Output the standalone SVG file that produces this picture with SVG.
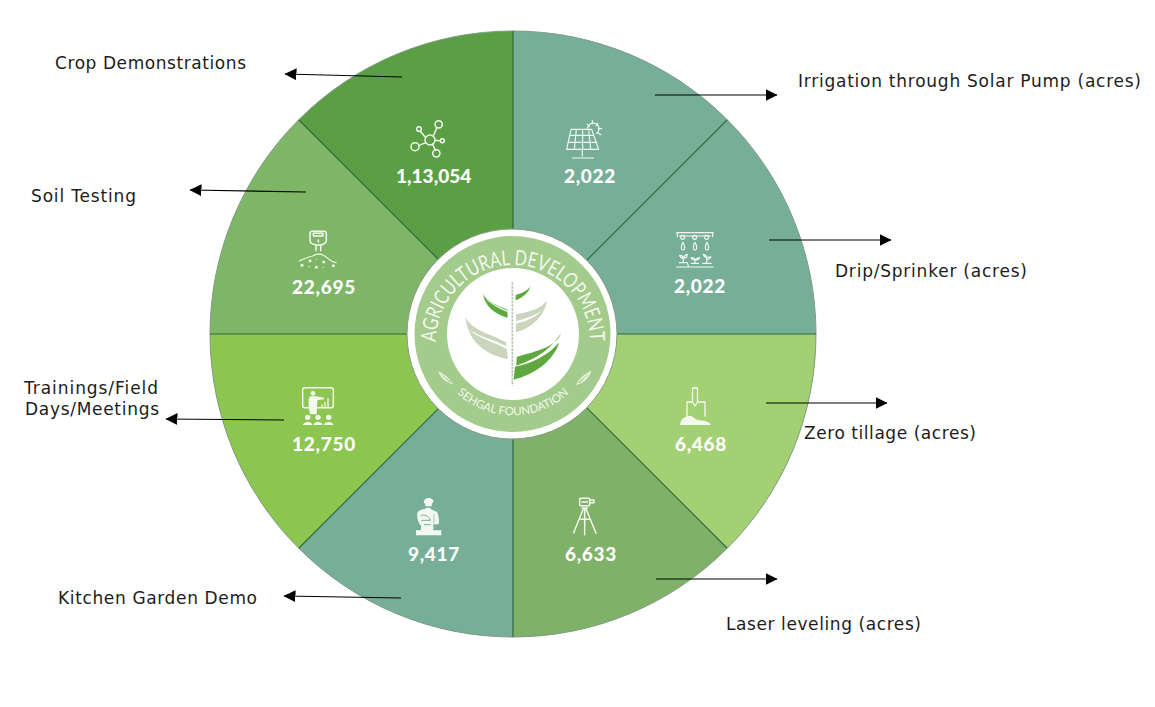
<svg xmlns="http://www.w3.org/2000/svg" width="1155" height="707" viewBox="0 0 1155 707">
<style>
.div{stroke:#2f6b3b;stroke-width:1.2;fill:none}
.lbl{font-family:"DejaVu Sans",Verdana,sans-serif;font-size:17px;fill:#1c1c1c}
.num{font-family:"Lato","Liberation Sans",sans-serif;font-weight:900;font-size:19px;fill:#fff;text-anchor:middle;letter-spacing:.7px}
.ic{fill:none;stroke:#f4f9f0;stroke-width:4.4;stroke-linecap:round;stroke-linejoin:round}
.thin{stroke-width:3.4}
.icf{fill:#f4f9f0;stroke:none}
.conn{stroke:#000;stroke-width:1.2;fill:none;marker-end:url(#ah)}
.ring{font-family:"Lato","Liberation Sans",sans-serif;fill:#f3f8ee}
</style>
<defs>
<marker id="ah" markerUnits="userSpaceOnUse" markerWidth="12" markerHeight="12" refX="11.500" refY="6" orient="auto"><path d="M0 0L12 6L0 12Z" fill="#000"/></marker>
<path id="arcTop" d="M436 342A77 77 0 0 1 590 342"/>
<path id="arcBot" d="M447 382A82 82 0 0 0 579 382"/>
</defs>
<rect width="1155" height="707" fill="#fff"/>
<g id="sectors">
<path fill="#5a9f44" d="M513 334L298.750 119.750A303 303 0 0 1 513 31Z"/>
<path fill="#76ae97" d="M513 334L513 31A303 303 0 0 1 727.250 119.750Z"/>
<path fill="#76ae97" d="M513 334L727.250 119.750A303 303 0 0 1 816 334Z"/>
<path fill="#a2d072" d="M513 334L816 334A303 303 0 0 1 727.250 548.250Z"/>
<path fill="#7fb268" d="M513 334L727.250 548.250A303 303 0 0 1 513 637Z"/>
<path fill="#76ae97" d="M513 334L513 637A303 303 0 0 1 298.750 548.250Z"/>
<path fill="#8cc650" d="M513 334L298.750 548.250A303 303 0 0 1 210 334Z"/>
<path fill="#7eb566" d="M513 334L210 334A303 303 0 0 1 298.750 119.750Z"/>
<circle cx="513" cy="334" r="303" fill="none" stroke="#7f9c84" stroke-width="1"/>
<path class="div" d="M298.750 119.750L727.250 548.250M727.250 119.750L298.750 548.250M210 334H816M513 31V637"/>
</g>
<g id="connectors">
<path class="conn" d="M402 77L285 74"/>
<path class="conn" d="M655 95L777 95"/>
<path class="conn" d="M769 240L891 240"/>
<path class="conn" d="M766 403L887 403"/>
<path class="conn" d="M656 579L777 579"/>
<path class="conn" d="M401 598L284 596"/>
<path class="conn" d="M284 420L166 419"/>
<path class="conn" d="M306 192L190 190"/>
</g>
<g id="hub">
<circle cx="512" cy="334" r="105" fill="#fff" stroke="#8a9c80" stroke-width="1"/>
<circle cx="512.500" cy="334" r="98" fill="#a3cb8b"/>
<circle cx="513" cy="334" r="66" fill="#fff"/>
<text class="ring" font-size="21"><textPath href="#arcTop" textLength="241" lengthAdjust="spacingAndGlyphs">AGRICULTURAL DEVELOPMENT</textPath></text>
<text class="ring" font-size="11.500"><textPath href="#arcBot" startOffset="50%" text-anchor="middle">SEHGAL FOUNDATION</textPath></text>
<g transform="translate(400 225) scale(.33333)">
<path d="M337 172V482" stroke="#b5c9ac" stroke-width="5" stroke-dasharray="8 3" fill="none"/>
<path fill="#5fa83f" d="M249 207C262 232 290 240 322 254L323 278C285 268 255 245 249 207Z"/>
<path fill="#fff" d="M257 222C275 240 300 250 322 262L322 257C298 246 275 236 257 222Z"/>
<path fill="#5fa83f" d="M347 210C365 205 382 198 392 183C385 205 368 218 347 226Z"/>
<path fill="#c9d6bd" d="M348 268C385 262 420 252 441 228C430 280 390 310 348 322Z"/>
<path fill="#fff" d="M348 288C382 280 410 270 430 252C410 276 380 288 348 296Z"/>
<path fill="#c9d6bd" d="M196 277C220 320 270 325 318 352L324 402C262 392 205 355 196 277Z"/>
<path fill="#fff" d="M205 312C235 340 280 350 320 372L320 364C280 344 235 334 205 312Z"/>
<path fill="#5fa83f" d="M484 324C465 370 400 380 350 396L349 422C410 400 445 380 484 324Z"/>
<path fill="#5fa83f" d="M478 352C460 410 400 450 341 464L345 425C395 415 440 395 478 352Z"/>
<path fill="#e6f1dc" d="M114 438C128 445 145 455 160 478C140 475 122 460 114 438Z"/>
<path fill="#a3cb8b" d="M120 447C134 455 145 463 155 473L150 473C140 463 130 455 120 447Z"/>
<path fill="#e6f1dc" d="M575 436C560 445 540 455 528 480C550 476 568 460 575 436Z"/>
<path fill="#a3cb8b" d="M569 446C556 454 545 462 534 474L539 474C548 464 558 455 569 446Z"/>
</g>
</g>
<g id="node-crop">
<text class="lbl" x="55" y="69" textLength="191">Crop Demonstrations</text>
<g transform="translate(290 110) scale(.33333)">
<circle class="ic" cx="420" cy="90" r="15"/>
<path class="ic" d="M430 78L440 54M406 82L393 66M407 98L388 106M428 103L436 120M434 91L448 92"/>
<circle class="ic" cx="446" cy="43" r="11"/><circle class="ic" cx="387" cy="57" r="7"/><circle class="ic" cx="375" cy="110" r="12"/><circle class="ic" cx="439" cy="130" r="11"/><circle class="ic" cx="457" cy="92" r="6"/>
</g>
<text class="num" x="434" y="183" textLength="76">1,13,054</text>
</g>
<g id="node-solar">
<text class="lbl" x="798" y="87" textLength="343">Irrigation through Solar Pump (acres)</text>
<g transform="translate(550 110) scale(.33333)">
<path class="ic thin" d="M63 58H125L146 118H50ZM58 76H131M54 97H138M79 58L73 118M98 58V118M116 58L122 118M97 118V138M67 144H131"/>
<path class="ic thin" d="M113 58A17 17 0 1 1 140 70M111 42L118 50M127 32V42M144 40L138 48M155 56H145M153 74L143 68"/>
</g>
<text class="num" x="590" y="183">2,022</text>
</g>
<g id="node-drip">
<text class="lbl" x="835" y="277" textLength="192">Drip/Sprinker (acres)</text>
<g transform="translate(550 110) scale(.33333)">
<path class="ic thin" d="M380 368H490M382 368V380M488 368V380M388 378H482"/>
<circle class="ic thin" cx="398" cy="382" r="6"/><circle class="ic thin" cx="434" cy="382" r="6"/><circle class="ic thin" cx="470" cy="382" r="6"/>
<path class="ic thin" d="M399 397C393 407 392 420 399 420C406 420 405 407 399 397ZM435 397C429 407 428 420 435 420C442 420 441 407 435 397ZM471 397C465 407 464 420 471 420C478 420 477 407 471 397Z"/>
<path class="ic thin" d="M380 471H490M388 458H412L416 471M400 458V445M400 445C392 445 390 440 389 436C396 436 400 440 400 445C402 438 406 434 412 433C412 440 408 445 400 445M424 460H446M435 460V450C428 450 424 446 423 443C430 443 435 445 435 450C440 445 444 443 449 443C447 448 443 450 435 450M458 460H484M470 460V444C464 442 461 438 460 433C467 434 470 438 470 444C474 442 478 440 483 441C481 446 476 448 470 450"/>
</g>
<text class="num" x="700" y="293">2,022</text>
</g>
<g id="node-zero">
<text class="lbl" x="804" y="439" textLength="172">Zero tillage (acres)</text>
<path class="ic" stroke-width="1.300" d="M687 402V416M705 402V416M687 402H692M705 402H698M692.500 388V402L695 406L697.500 402V388Z" style="stroke-width:1.300"/>
<path class="icf" d="M680 425C680 420 684 417 688 416C692 415 694 419 698 420C703 421 708 420 711 425Z"/>
<text class="num" x="701" y="451">6,468</text>
</g>
<g id="node-laser">
<text class="lbl" x="726" y="630" textLength="195">Laser leveling (acres)</text>
<g transform="translate(550 400) scale(.33333)">
<rect class="ic" x="89" y="295" width="30" height="22" rx="3"/>
<path class="ic" d="M119 300H132V308H119M96 306H112M96 324H112M100 326L71 398M108 326L138 400M104 326V404M88 358H120"/>
</g>
<text class="num" x="591" y="561">6,633</text>
</g>
<g id="node-kitchen">
<text class="lbl" x="58" y="604" textLength="199">Kitchen Garden Demo</text>
<g transform="translate(280 375) scale(.33333)">
<path class="icf" d="M435 374C438 368 452 368 456 373C462 374 462 384 455 386V394H436V386C430 385 430 376 435 374Z"/>
<path class="icf" d="M442 398H448L456 404L470 410C477 418 478 440 476 448H460V466H484V481H408V466H423V452C414 445 410 425 412 414C416 405 430 403 442 398Z"/>
<path d="M422 422C432 416 446 424 452 436M424 436H452M432 449H452" stroke="#76ae97" stroke-width="3" fill="none"/>
<path d="M462 418V444" stroke="#76ae97" stroke-width="2" fill="none"/>
</g>
<text class="num" x="434" y="561">9,417</text>
</g>
<g id="node-training">
<text class="lbl" x="24" y="394" textLength="134">Trainings/Field</text>
<text class="lbl" x="25" y="415" textLength="134">Days/Meetings</text>
<g transform="translate(280 375) scale(.33333)">
<rect class="ic" x="68" y="38" width="92" height="60" rx="6"/>
<circle class="icf" cx="99" cy="55" r="7"/>
<path class="icf" d="M90 64H108L132 68V73L112 76L110 118H90L86 96V72Z"/>
<path class="icf" d="M124 88h4v10h-4zM133 80h4v18h-4zM142 70h4v28h-4z"/>
<circle class="icf" cx="83" cy="127" r="8"/><circle class="icf" cx="114" cy="127" r="8"/><circle class="icf" cx="146" cy="127" r="8"/>
<path class="icf" d="M69 150C70 138 96 138 97 150ZM100 150C101 138 127 138 128 150ZM132 150C133 138 159 138 160 150Z"/>
</g>
<text class="num" x="324" y="451">12,750</text>
</g>
<g id="node-soil">
<text class="lbl" x="31" y="202" textLength="105">Soil Testing</text>
<g transform="translate(290 110) scale(.33333)">
<path class="ic" d="M60 370C60 365 64 364 68 364H102C106 364 109 366 109 370V392C109 398 100 404 85 406C70 404 60 398 60 392Z"/>
<path class="ic" d="M70 378H99V370H70ZM85 390V396M78 406V422M92 406V422"/>
<path class="ic thin" d="M28 453C45 446 55 440 68 438C76 432 92 430 100 436C115 442 118 456 138 458"/>
<circle class="icf" cx="36" cy="466" r="4.500"/><circle class="icf" cx="60" cy="452" r="4.500"/><circle class="icf" cx="79" cy="472" r="4.500"/><circle class="icf" cx="101" cy="456" r="4.500"/><circle class="icf" cx="130" cy="467" r="4.500"/>
<circle class="icf" cx="80" cy="448" r="2"/><circle class="icf" cx="100" cy="472" r="2"/><circle class="icf" cx="57" cy="470" r="2"/>
</g>
<text class="num" x="324" y="294">22,695</text>
</g>
</svg>
